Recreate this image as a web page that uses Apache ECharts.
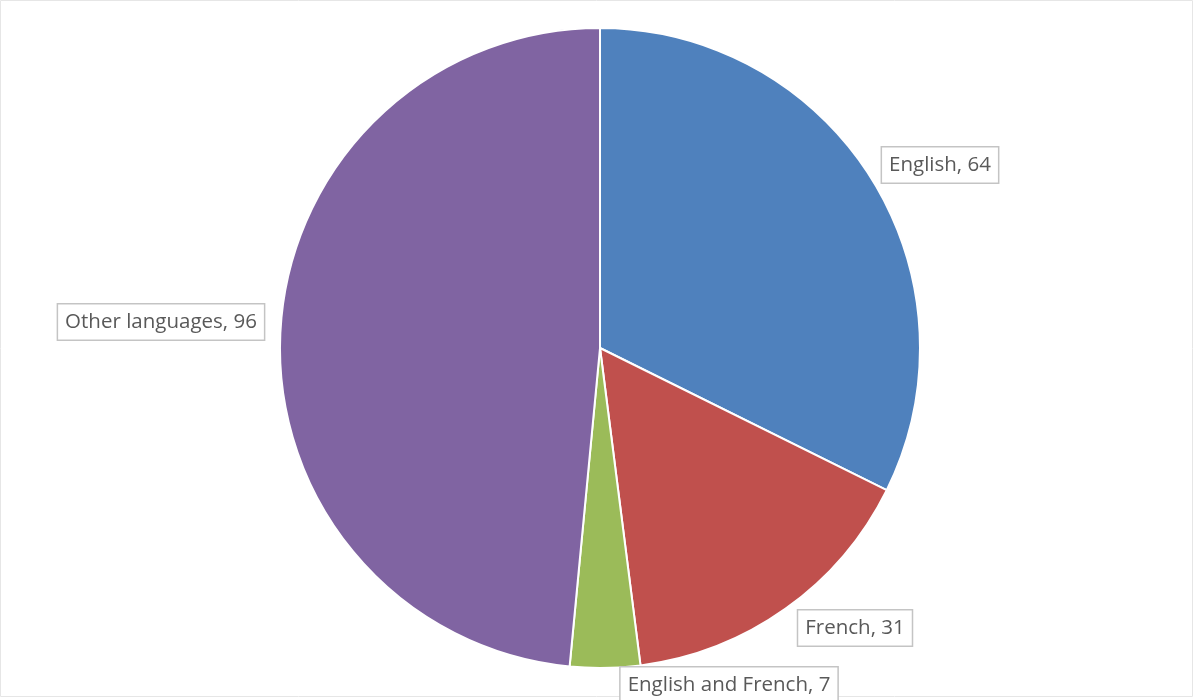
<!DOCTYPE html>
<html>
<head>
<meta charset="utf-8">
<script src="https://cdn.jsdelivr.net/npm/echarts@6/dist/echarts.min.js"></script>
<style>html,body{margin:0;padding:0;background:#fff}#c{width:1193px;height:700px}</style>
</head>
<body>
<div id="c"></div>
<script>
const categories = ["English", "French", "English and French", "Other languages"];
const values = [64, 31, 7, 96];
const colors = ["#4F81BD", "#C0504D", "#9BBB59", "#8064A2"];
const labelCenters = [[940, 165], [855, 628], [729, 685], [161, 322]];

const chart = echarts.init(document.getElementById('c'), null, {renderer: 'canvas'});
chart.setOption({
  animation: false,
  backgroundColor: '#fff',
  graphic: [{
    type: 'rect', shape: {x: 0.5, y: 0.5, width: 1192, height: 696},
    style: {fill: 'none', stroke: '#e6e6e6', lineWidth: 1}, silent: true, z: -1
  }],
  series: [{
    type: 'pie',
    center: [600, 348],
    radius: [0, 320],
    startAngle: 90,
    clockwise: true,
    data: categories.map((c, i) => ({name: c, value: values[i], itemStyle: {color: colors[i]}})),
    itemStyle: {borderColor: '#fff', borderWidth: 2},
    label: {
      show: true,
      position: 'outside',
      formatter: '{b}, {c}',
      fontFamily: 'Open Sans',
      fontSize: 20.5,
      lineHeight: 25,
      color: '#595959',
      backgroundColor: '#fff',
      borderColor: '#c4c4c4',
      borderWidth: 1.5,
      padding: [6, 7, 4, 7]
    },
    labelLine: {show: false},
    labelLayout: function (p) {
      const pos = labelCenters[p.dataIndex];
      return {x: pos[0], y: pos[1], align: 'center', verticalAlign: 'middle', hideOverlap: false};
    },
    emphasis: {disabled: true}
  }]
});
</script>
</body>
</html>
